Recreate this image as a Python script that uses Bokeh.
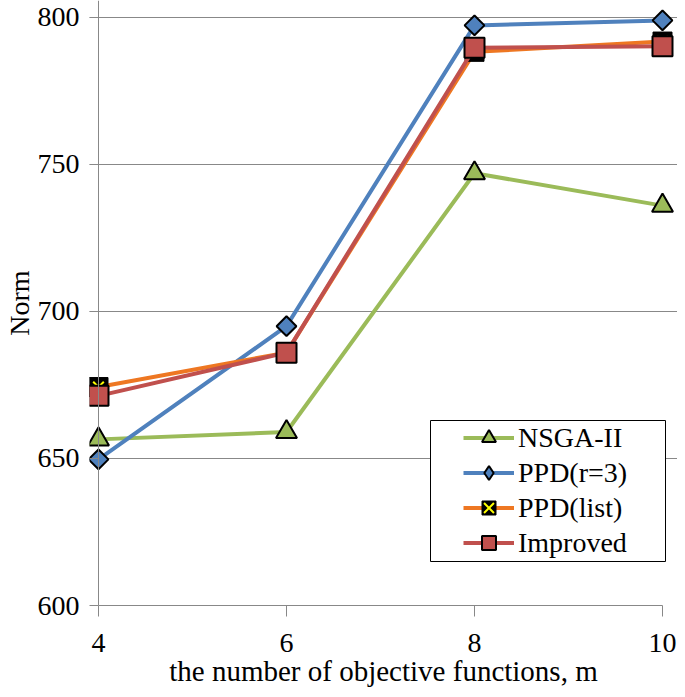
import math
from bokeh.plotting import figure
from bokeh.models import Range1d, Legend, LegendItem, Span, BoxAnnotation, FixedTicker
from bokeh.embed import file_html
from bokeh.resources import INLINE

# ---- data ----
m_values = [4, 6, 8, 10]
nsga2 = [656.5, 659.0, 747.0, 736.0]
ppd_r3 = [649.7, 695.0, 797.3, 799.0]
ppd_list = [674.3, 686.0, 788.3, 791.8]
improved = [671.3, 686.0, 789.7, 790.2]
y_ticks = [600, 650, 700, 750, 800]

FONT = "Liberation Serif"
FS = "28px"

W, H = 677, 689
LEFT, BOTTOM = 89, 82
X4, X10 = 98, 662           # screen x of m=4 and m=10
Y800 = 17                   # screen y of 800
px_x = (X10 - X4) / 6.0
frame_h = H - BOTTOM
px_y = (frame_h - Y800) / 200.0
p = figure(width=W, height=H, output_backend="svg", toolbar_location=None,
           x_range=Range1d(4 - (X4 - LEFT) / px_x, 10 + (W - X10) / px_x),
           y_range=Range1d(600, 800 + Y800 / px_y),
           min_border_left=LEFT, min_border_right=0, min_border_top=0, min_border_bottom=BOTTOM)
p.outline_line_color = None
p.background_fill_color = "white"

# grid
p.xgrid.grid_line_color = None
p.ygrid.grid_line_color = "#888888"
p.ygrid.grid_line_width = 1
p.ygrid.bounds = (4, 10)

# y axis
p.yaxis.ticker = FixedTicker(ticks=y_ticks)
p.yaxis.axis_line_color = None
p.yaxis.major_tick_in = X4 - LEFT
p.yaxis.major_tick_out = 0
p.yaxis.major_tick_line_color = "#888888"
p.yaxis.minor_tick_line_color = None
p.yaxis.major_label_standoff = 10
p.yaxis.major_label_text_font = FONT
p.yaxis.major_label_text_font_size = FS
p.yaxis.major_label_text_color = "black"
p.yaxis.axis_label = "Norm"
p.yaxis.axis_label_standoff = 0
p.yaxis.axis_label_text_font = FONT
p.yaxis.axis_label_text_font_size = FS
p.yaxis.axis_label_text_font_style = "normal"
p.yaxis.axis_label_text_color = "black"

# x axis
p.xaxis.ticker = FixedTicker(ticks=m_values)
p.xaxis.bounds = (4, 10)
p.xaxis.axis_line_color = "#888888"
p.xaxis.major_tick_in = 0
p.xaxis.major_tick_out = 11
p.xaxis.major_tick_line_color = "#888888"
p.xaxis.minor_tick_line_color = None
p.xaxis.major_label_standoff = 17
p.xaxis.major_label_text_font = FONT
p.xaxis.major_label_text_font_size = FS
p.xaxis.major_label_text_color = "black"
p.xaxis.axis_label = "the number of objective functions, m"
p.xaxis.axis_label_standoff = 0
p.xaxis.axis_label_text_font = FONT
p.xaxis.axis_label_text_font_size = "29px"
p.xaxis.axis_label_text_font_style = "normal"
p.xaxis.axis_label_text_color = "black"

# left axis line at m=4
p.add_layout(Span(location=4, dimension="height", line_color="#888888", line_width=1))

LW = 4
green, blue, orange, red = "#9BBB59", "#4F81BD", "#EE7722", "#C0504D"

l1 = p.line(m_values, nsga2, line_color=green, line_width=LW)
s1 = p.scatter(m_values, nsga2, marker="triangle", size=21, fill_color=green,
               line_color="black", line_width=2)
l2 = p.line(m_values, ppd_r3, line_color=blue, line_width=LW)
s2 = p.scatter(m_values, ppd_r3, marker="square", size=14, angle=math.pi / 4,
               fill_color=blue, line_color="black", line_width=2)
# zero-size diamond: only used for the legend swatch
s2_leg = p.scatter(m_values, ppd_r3, marker="diamond", size=0, fill_color=blue,
                   line_color="black", line_width=2)
l3 = p.line(m_values, ppd_list, line_color=orange, line_width=LW)
s3 = p.scatter(m_values, ppd_list, marker="square", size=19, fill_color="black",
               line_color="black", line_width=1)
s3x = p.scatter(m_values, ppd_list, marker="x", size=15, line_color="#FFFF00", line_width=2)
l4 = p.line(m_values, improved, line_color=red, line_width=LW)
s4 = p.scatter(m_values, improved, marker="square", size=20, fill_color=red,
               line_color="black", line_width=2)

# legend frame (screen units, relative to plot frame bottom-left)
p.add_layout(BoxAnnotation(left=341, right=576, top=185, bottom=44,
                           left_units="screen", right_units="screen",
                           top_units="screen", bottom_units="screen",
                           fill_color="white", fill_alpha=1.0,
                           line_color="black", line_width=1, line_alpha=1.0))

legend = Legend(items=[
    LegendItem(label="NSGA-II", renderers=[l1, s1]),
    LegendItem(label="PPD(r=3)", renderers=[l2, s2_leg]),
    LegendItem(label="PPD(list)", renderers=[l3, s3, s3x]),
    LegendItem(label="Improved", renderers=[l4, s4]),
], location=(374, 45), padding=0, spacing=0, glyph_width=51, glyph_height=35,
    label_height=35, label_standoff=4, border_line_alpha=0, background_fill_alpha=0,
    label_text_font=FONT, label_text_font_size=FS, label_text_color="black", margin=0)
p.add_layout(legend, "center")

open("out.html", "w").write(file_html(p, INLINE))
